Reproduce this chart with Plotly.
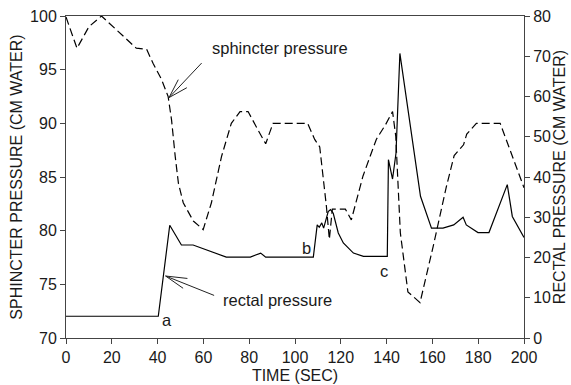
import plotly.graph_objects as go

# Sphincter pressure (left axis, dashed)
sph_t = [0, 4.8, 10, 15.5, 30.7, 35.2, 38.0, 41.7, 44.6, 46.1, 47.7, 49.1, 51.2, 55.6, 59.9,
         63.5, 67.9, 72.2, 76.0, 79.5, 83.8, 87.2, 90.4, 105.5, 108.6, 110.8, 113.7, 115.0,
         116.3, 122.0, 124.6, 129.7, 135.5, 139.6, 142.6, 144.0, 146.0, 149.3, 154.6, 160.3,
         166.1, 169.5, 173.6, 175.0, 179.2, 189.6, 200]
sph_p = [99.9, 97.0, 99.0, 100.0, 97.0, 96.9, 95.6, 94.1, 92.5, 90.3, 86.9, 84.4, 82.6, 80.9, 80.1,
         82.6, 86.9, 90.0, 91.1, 91.1, 89.4, 88.1, 90.0, 90.0, 88.5, 87.8, 82.3, 79.2,
         82.0, 82.0, 81.0, 85.1, 88.5, 89.9, 91.1, 88.8, 79.8, 74.3, 73.3, 78.5,
         84.1, 87.0, 88.0, 89.0, 90.0, 90.0, 84.0]

# Rectal pressure (right axis, solid)
rec_t = [0, 40.3, 45.3, 50.4, 55.5, 70.0, 80.5, 85.0, 87.2, 108.0, 109.7, 110.6, 111.7, 112.5,
         114.5, 115.5, 116.7, 118.9, 121.1, 125.5, 129.9, 140.3, 140.8, 142.6, 144.1, 145.8,
         154.8, 159.6, 164.6, 169.3, 173.4, 174.8, 179.9, 184.7, 192.7, 194.9, 200]
rec_p = [5.4, 5.4, 28.0, 23.1, 23.1, 20.1, 20.1, 21.1, 20.1, 20.1, 28.1, 27.5, 28.6, 27.3,
         31.4, 31.9, 31.0, 26.1, 23.6, 21.1, 20.3, 20.3, 44.3, 39.5, 45.9, 70.7,
         35.2, 27.3, 27.3, 28.1, 30.0, 28.1, 26.2, 26.2, 38.1, 30.2, 25.0]

x_ticks = [0, 20, 40, 60, 80, 100, 120, 140, 160, 180, 200]
left_ticks = [70, 75, 80, 85, 90, 95, 100]
right_ticks = [0, 10, 20, 30, 40, 50, 60, 70, 80]

FONT = "Liberation Sans, Arial, sans-serif"
TXT = "#1a1a1a"
AX = "#444444"
TICK_SIZE = 16
TITLE_SIZE = 16
NOTE_SIZE = 16.5

fig = go.Figure()
fig.add_trace(go.Scatter(x=sph_t, y=sph_p, mode="lines", yaxis="y",
                         line=dict(color="black", width=1.2, dash="8px,4px"),
                         showlegend=False, hoverinfo="skip"))
fig.add_trace(go.Scatter(x=rec_t, y=rec_p, mode="lines", yaxis="y2",
                         line=dict(color="black", width=1.2),
                         showlegend=False, hoverinfo="skip"))

axis_common = dict(showgrid=False, zeroline=False, showline=True, linecolor=AX, linewidth=1,
                   ticks="outside", ticklen=5, tickcolor=AX, automargin=False,
                   tickfont=dict(family=FONT, size=TICK_SIZE, color=TXT))

fig.update_layout(
    width=571, height=385,
    margin=dict(l=66, r=47, t=16, b=47, pad=0, autoexpand=False),
    paper_bgcolor="white", plot_bgcolor="white",
    font=dict(family=FONT, color=TXT),
    xaxis=dict(range=[0, 200], tickvals=x_ticks, mirror=True,
               title=dict(text="TIME (SEC)", font=dict(family=FONT, size=TITLE_SIZE, color=TXT), standoff=4),
               **axis_common),
    yaxis=dict(range=[70, 100], tickvals=left_ticks,
               title=dict(text="SPHINCTER PRESSURE (CM WATER)", font=dict(family=FONT, size=TITLE_SIZE, color=TXT), standoff=3),
               **axis_common),
    yaxis2=dict(range=[0, 80], tickvals=right_ticks, overlaying="y", side="right",
                title=dict(text="RECTAL PRESSURE (CM WATER)", font=dict(family=FONT, size=TITLE_SIZE, color=TXT), standoff=3),
                **axis_common),
)

def arrow(x, y, yref, tail, barbs):
    fig.add_annotation(x=x, y=y, xref="x", yref=yref, ax=tail[0], ay=tail[1], text="",
                       showarrow=True, arrowhead=0, arrowwidth=1, arrowcolor="#222", standoff=0)
    for b in barbs:
        fig.add_annotation(x=x, y=y, xref="x", yref=yref, ax=b[0], ay=b[1], text="",
                           showarrow=True, arrowhead=0, arrowwidth=1, arrowcolor="#222", standoff=0)

# sphincter pressure label + arrow
arrow(45.0, 92.4, "y", (34, -36), [(10, -19.4), (19.3, -10.7)])
fig.add_annotation(x=93.3, y=97.05, xref="x", yref="y", text="sphincter pressure", showarrow=False,
                   font=dict(family=FONT, size=NOTE_SIZE, color=TXT))
# rectal pressure label + arrow
arrow(43.5, 15.4, "y2", (50, 20), [(23.3, 2.6), (19, 13.3)])
fig.add_annotation(x=92.3, y=73.56, xref="x", yref="y", text="rectal pressure", showarrow=False,
                   font=dict(family=FONT, size=NOTE_SIZE, color=TXT))

for lab, lx, ly in [("a", 44.0, 71.7), ("b", 105.0, 78.4), ("c", 138.7, 76.2)]:
    fig.add_annotation(x=lx, y=ly, xref="x", yref="y", text=lab, showarrow=False,
                       font=dict(family=FONT, size=NOTE_SIZE, color=TXT))

fig.write_html("out.html")
